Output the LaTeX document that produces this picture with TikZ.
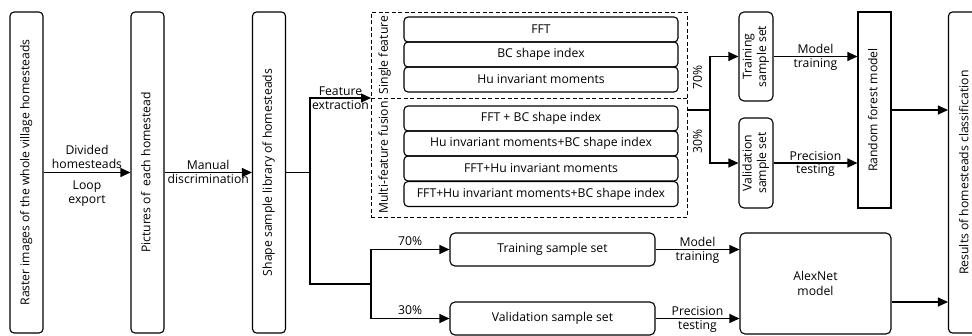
\documentclass[tikz,border=0pt]{standalone}
\usepackage{fontspec}
\setmainfont{Open Sans}
\usepackage{graphicx}
\usetikzlibrary{arrows.meta}
\tikzset{
  flowarr/.style  = {-{Triangle[length=10pt,width=9pt]},line width=1.1pt},
  flowline/.style = {line width=1.1pt},
  tallbox/.style  = {draw,line width=1.1pt,rounded corners=4pt,inner sep=0pt,
                     minimum width=33,minimum height=321},
  featbox/.style  = {draw,line width=1.1pt,rounded corners=4pt,inner sep=0pt,
                     minimum width=274,minimum height=25},
  smallbox/.style = {draw,line width=1.1pt,rounded corners=5pt,inner sep=0pt,
                     minimum width=34,minimum height=89},
  widebox/.style  = {draw,line width=1.1pt,rounded corners=5pt,inner sep=0pt,
                     minimum width=205,minimum height=33},
  grpbox/.style   = {draw,line width=1pt,dash pattern=on 4pt off 2.5pt,
                     minimum width=316,minimum height=205,inner sep=0pt}
}
\newcommand{\uptext}[1]{\rotatebox{90}{\begin{tabular}{@{}c@{}}#1\end{tabular}}}

\begin{document}
\begin{tikzpicture}[x=1pt,y=-1pt,
  every node/.style={font=\fontsize{12.2}{14.5}\selectfont}]
  \clip (0,0) rectangle (972,335);
  % input chain
  \node[tallbox] (raster) at (26.5,172.5)  {\uptext{Raster images of the whole village homesteads}};
  \node[tallbox] (pics)   at (147.5,172.5) {\uptext{Pictures of\ \ each homestead}};
  \node[tallbox] (lib)    at (269,172.5)   {\uptext{Shape sample library of homesteads}};
  \draw[flowarr] (raster) -- node[above,align=center]{Divided\\homesteads}
                             node[below=4pt,align=center]{Loop\\export} (pics);
  \draw[flowarr] (pics) -- node[above=-1pt]{Manual} node[below=-2pt]{discrimination} (lib);

  % feature group
  \node[grpbox] (grp) at (529,114.5) {};
  \coordinate (grpin) at (371,98);
  \draw[line width=1pt,dash pattern=on 4pt off 2.5pt] (grpin) -- (grpin -| grp.east);
  \node (single) at (385,55)    {\uptext{Single feature}};
  \node (multi)  at (385,157.5) {\uptext{Multi-feature fusion}};
  \node[featbox] (fft)   at (541,29.5)  {FFT};
  \node[featbox] (bc)    at (541,54.5)  {BC shape index};
  \node[featbox] (hu)    at (541,79.5)  {Hu invariant moments};
  \node[featbox] (fftbc) at (541,118.5) {FFT + BC shape index};
  \node[featbox] (hubc)  at (541,143.5) {Hu invariant moments+BC shape index};
  \node[featbox] (ffthu) at (541,168.5) {FFT+Hu invariant moments};
  \node[featbox] (all)   at (541,194)   {FFT+Hu invariant moments+BC shape index};

  \coordinate (fork) at (310,172.5);
  \draw[flowline] (lib) -- (fork);
  \draw[flowarr] (fork) |- node[pos=0.75,above=-1pt]{Feature}
                           node[pos=0.75,below=-1pt]{extraction} (grpin);

  % random forest branch
  \node[smallbox] (trsmall) at (756,56.5) {\uptext{Training\\sample set}};
  \node[smallbox,minimum height=90] (vasmall) at (756,163) {\uptext{Validation\\sample set}};
  \node[draw,line width=1.1pt,inner sep=0pt,minimum width=33,minimum height=196]
    (rf) at (874.5,110) {\uptext{Random forest model}};
  \node[tallbox,minimum width=34] (res) at (965.5,172.5) {\uptext{Results of homesteads classification}};

  \coordinate (split1) at (710,110);
  \draw[flowline] (grp.east |- split1) -- (split1);
  \draw[flowarr] (split1) |- node[pos=0.3,left=0pt]{\uptext{70\%}} (trsmall);
  \draw[flowarr] (split1) |- node[pos=0.3,left=0pt]{\uptext{30\%}} (vasmall);
  \draw[flowarr] (trsmall) -- node[above=-1pt]{Model} node[below=-2pt]{training} (trsmall -| rf.west);
  \draw[flowarr] (vasmall) -- node[above=-1pt]{Precision} node[below=-2pt]{testing} (vasmall -| rf.west);
  \draw[flowarr] (rf) -- (rf -| res.west);

  % AlexNet branch
  \node[widebox] (trbig) at (552.5,249.5) {Training sample set};
  \node[widebox] (vabig) at (552.5,318.5) {Validation sample set};
  \node[widebox,minimum width=151,minimum height=101,align=center] (alex) at (815.5,283.5) {AlexNet\\model};

  \coordinate (split2) at (371,284);
  \draw[flowline] (fork) |- (split2);
  \draw[flowarr] (split2) |- node[pos=0.75,above]{70\%} (trbig);
  \draw[flowarr] (split2) |- node[pos=0.75,above]{30\%} (vabig);
  \draw[flowarr] (trbig) -- node[above=-1pt]{Model} node[below=-2pt]{training} (trbig -| alex.west);
  \draw[flowarr] (vabig) -- node[above=-1pt]{Precision} node[below=-2pt]{testing} (vabig -| alex.west);
  \coordinate (alexout) at ([yshift=-18.5pt]alex.east);
  \draw[flowarr] (alexout) -- (alexout -| res.west);
\end{tikzpicture}
\end{document}
